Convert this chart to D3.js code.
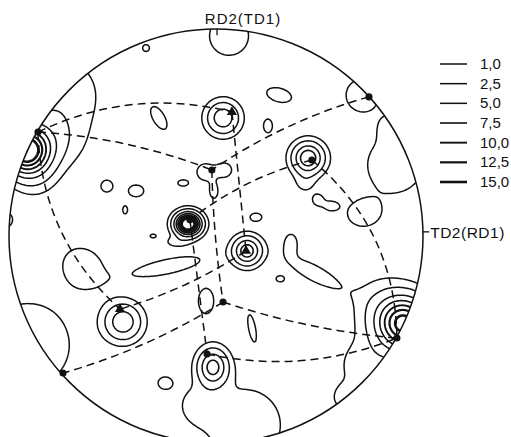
<!DOCTYPE html>
<html>
<head>
<meta charset="utf-8">
<script src="https://cdn.jsdelivr.net/npm/d3@7"></script>
<style>
  body { margin: 0; background: #fff; }
  text { font-family: "Liberation Sans", Arial, sans-serif; fill: #111; }
</style>
</head>
<body>
<svg id="chart" width="511" height="437"></svg>
<script>
// Contour levels (multiples of random density) and their legend labels
const levels = [1.0, 2.5, 5.0, 7.5, 10.0, 12.5, 15.0];
const levelLabels = ["1,0", "2,5", "5,0", "7,5", "10,0", "12,5", "15,0"];

// Orientation-density components in the projection plane (unit circle, y up):
// centre, peak height, spread along/across the tilt direction, tilt in degrees
const peakU      = [-0.918, 0.034, 0.445, -0.135, 0.150, -0.449, -0.015, 0.908,
                    0.063, -0.338, -0.754, -0.777, -0.874, -1.020, -0.909, 0.140, -0.087,
                    0.705, 0.864, 0.851, 0.720, 0.793, 0.623,
                    -0.276, 0.305, 0.251, -0.053, 0.044, -0.010, -0.160, -0.527, -0.386, -0.439,
                    -0.304, -0.236, -0.640, 0.193, 0.493, 0.556, 0.710, 0.362, 0.473, 0.310,
                    -0.048, 0.174, -0.246, -0.193, 0.430];
const peakV      = [0.415, 0.570, 0.377, 0.058, -0.072, -0.415, -0.633, -0.425,
                    0.967, 0.908, 0.681, 0.464, 0.294, 0.078, -0.527, -0.913, -0.816,
                    0.681, 0.343, 0.527, -0.623, -0.333, -0.783,
                    0.570, 0.681, 0.532, 0.309, 0.319, 0.213, 0.256, 0.241, 0.218, 0.126,
                    0.000, -0.148, -0.150, 0.091, 0.174, 0.145, 0.106, -0.034, -0.179, -0.207,
                    -0.314, -0.445, -0.710, -0.029, 0.256];
const peakHeight = [18, 7, 9.8, 20, 9.2, 7, 8.7, 16,
                    1.6, 1.6, 2, 2, 1.6, 1.6, 2, 2, 1.5,
                    1.8, 1.8, 1.4, 1.7, 1.7, 1.5,
                    1.6, 1.6, 1.6, 1.5, 1.5, 1.5, 1.6, 1.6, 1.6, 1.6,
                    1.6, 1.6, 1.6, 1.6, 1.6, 1.6, 1.6, 1.6, 1.6, 1.6,
                    1.6, 1.6, 1.6, 1.4, 1.3];
const peakSpreadA = [0.075, 0.052, 0.050, 0.041, 0.045, 0.059, 0.048, 0.085,
                    0.097, 0.017, 0.145, 0.095, 0.073, 0.038, 0.170, 0.145, 0.068,
                    0.070, 0.121, 0.048, 0.097, 0.097, 0.048,
                    0.063, 0.063, 0.022, 0.043, 0.034, 0.020, 0.025, 0.029, 0.038, 0.012,
                    0.015, 0.165, 0.100, 0.029, 0.025, 0.029, 0.073, 0.029, 0.130, 0.020,
                    0.038, 0.068, 0.034, 0.043, 0.038];
const peakSpreadB = [0.075, 0.052, 0.050, 0.036, 0.045, 0.059, 0.058, 0.085,
                    0.097, 0.017, 0.145, 0.095, 0.073, 0.038, 0.170, 0.145, 0.068,
                    0.070, 0.121, 0.048, 0.097, 0.097, 0.048,
                    0.029, 0.034, 0.034, 0.043, 0.034, 0.034, 0.015, 0.029, 0.029, 0.020,
                    0.009, 0.036, 0.085, 0.020, 0.025, 0.020, 0.058, 0.043, 0.038, 0.015,
                    0.063, 0.017, 0.029, 0.020, 0.038];
const peakTilt   = [0, 0, 0, 0, 0, 0, 0, 0,
                    0, 0, 0, 0, 0, 0, 0, 0, 0,
                    0, 0, 0, 0, 0, 0,
                    -60, -15, 0, 0, 0, 0, 0, 0, 0, 0,
                    0, 12, -40, 0, 0, 0, 0, 0, -28, 0,
                    0, -79, 0, 0, 0];

// Ideal orientation poles
const poleU      = [-0.860, 0.739, 0.077, -0.020, 0.463, -0.126, 0.145, 0.034, -0.464, -0.043, -0.739, 0.874];
const poleV      = [0.502, 0.672, 0.599, 0.319, 0.367, 0.078, -0.072, -0.319, -0.353, -0.570, -0.662, -0.493];
const poleSymbol = ["dot", "dot", "tri", "dot", "dot", "dot", "tri", "dot", "tri", "dot", "dot", "dot"];

// Great-circle traces joining poles (indices into the pole arrays) and their sideways bow
const arcFrom = [0, 0, 0, 1, 3, 2, 4, 4, 5, 6, 7, 7, 9];
const arcTo   = [2, 3, 8, 3, 7, 6, 5, 11, 9, 8, 10, 11, 11];
const arcBend = [0.085, 0.034, -0.10, -0.034, -0.01, 0, -0.034, 0.11, 0, 0.025, 0.03, -0.025, -0.07];

const axisTop = "RD2(TD1)";
const axisRight = "TD2(RD1)";

const cx = 216, cy = 236, R = 207;
const svg = d3.select("#chart");
const xs = d3.scaleLinear().domain([-1, 1]).range([cx - R, cx + R]);
const ys = d3.scaleLinear().domain([-1, 1]).range([cy + R, cy - R]);
const strokeW = d3.scaleOrdinal().domain(levels).range([1.5, 1.5, 1.5, 1.6, 1.9, 2.2, 2.6]);

// density grid
const lo = -1.08, hi = 1.08, n = 300, step = (hi - lo) / (n - 1);
const grid = new Float64Array(n * n);
const comps = peakU.map((u, i) => {
  const a = peakTilt[i] * Math.PI / 180;
  return { u, v: peakV[i], h: peakHeight[i], sa: peakSpreadA[i], sb: peakSpreadB[i], c: Math.cos(a), s: Math.sin(a) };
});
for (let j = 0; j < n; j++) {
  const v = lo + j * step;
  for (let i = 0; i < n; i++) {
    const u = lo + i * step;
    let f = 0;
    for (const k of comps) {
      const dx = u - k.u, dy = v - k.v;
      const p = dx * k.c + dy * k.s, q = -dx * k.s + dy * k.c;
      const e = p * p / (2 * k.sa * k.sa) + q * q / (2 * k.sb * k.sb);
      if (e < 30) f += k.h * Math.exp(-e);
    }
    grid[j * n + i] = f;
  }
}
const contours = d3.contours().size([n, n]).thresholds(levels)(grid);
const gridPath = d3.geoPath(d3.geoTransform({
  point(x, y) { this.stream.point(xs(lo + (x - 0.5) * step), ys(lo + (y - 0.5) * step)); }
}));

const defs = svg.append("defs");
defs.append("clipPath").attr("id", "pole-clip")
  .append("circle").attr("cx", xs(0)).attr("cy", ys(0)).attr("r", xs(1) - xs(0));

const plot = svg.append("g").attr("clip-path", "url(#pole-clip)");
plot.selectAll("path.iso").data(contours).join("path")
  .attr("class", "iso")
  .attr("d", gridPath)
  .attr("fill", "none")
  .attr("stroke", "#111")
  .attr("stroke-width", d => strokeW(d.value))
  .attr("stroke-linejoin", "round");

// great-circle traces, drawn as quadratic arcs bowed off the chord
const arcPath = (i) => {
  const a = arcFrom[i], b = arcTo[i];
  const ux = poleU[a], uy = poleV[a], wx = poleU[b], wy = poleV[b];
  const dx = wx - ux, dy = wy - uy, len = Math.hypot(dx, dy);
  const nx = -dy / len, ny = dx / len;
  const mx = (ux + wx) / 2 + 2 * arcBend[i] * nx, my = (uy + wy) / 2 + 2 * arcBend[i] * ny;
  const p = d3.path();
  p.moveTo(xs(ux), ys(uy));
  p.quadraticCurveTo(xs(mx), ys(my), xs(wx), ys(wy));
  return p.toString();
};
plot.selectAll("path.trace").data(d3.range(arcFrom.length)).join("path")
  .attr("class", "trace")
  .attr("d", arcPath)
  .attr("fill", "none")
  .attr("stroke", "#111")
  .attr("stroke-width", 1.5)
  .attr("stroke-dasharray", "8,5");

// pole markers
const tri = d3.symbol().type(d3.symbolTriangle).size(44);
const dot = d3.symbol().type(d3.symbolCircle).size(40);
svg.selectAll("path.pole").data(d3.range(poleU.length)).join("path")
  .attr("class", "pole")
  .attr("transform", i => `translate(${xs(poleU[i])},${ys(poleV[i])})`)
  .attr("d", i => poleSymbol[i] === "tri" ? tri() : dot())
  .attr("fill", "#111");

// rim and reference-axis ticks
svg.append("circle").attr("cx", xs(0)).attr("cy", ys(0)).attr("r", xs(1) - xs(0))
  .attr("fill", "none").attr("stroke", "#111").attr("stroke-width", 1.5);
svg.append("line").attr("x1", xs(0.005)).attr("x2", xs(0.005)).attr("y1", ys(1)).attr("y2", ys(0.97))
  .attr("stroke", "#111").attr("stroke-width", 1.3);
svg.append("line").attr("x1", xs(1)).attr("x2", xs(1.03)).attr("y1", ys(0.02)).attr("y2", ys(0.02))
  .attr("stroke", "#111").attr("stroke-width", 1.3);
svg.append("text").attr("x", 243).attr("y", 24).attr("text-anchor", "middle")
  .attr("font-size", 15).attr("letter-spacing", 1).text(axisTop);
svg.append("text").attr("x", xs(1.03) + 1).attr("y", ys(0.02) + 6)
  .attr("font-size", 15.5).attr("letter-spacing", 0.5).text(axisRight);

// legend
const legend = svg.append("g");
const ly = d3.scalePoint().domain(levels).range([64, 182]);
legend.selectAll("line").data(levels).join("line")
  .attr("x1", 440).attr("x2", 467)
  .attr("y1", d => ly(d)).attr("y2", d => ly(d))
  .attr("stroke", "#111").attr("stroke-width", d => strokeW(d));
legend.selectAll("text").data(levels).join("text")
  .attr("x", 480).attr("y", d => ly(d) + 5)
  .attr("font-size", 15)
  .text((d, i) => levelLabels[i]);
</script>
</body>
</html>
